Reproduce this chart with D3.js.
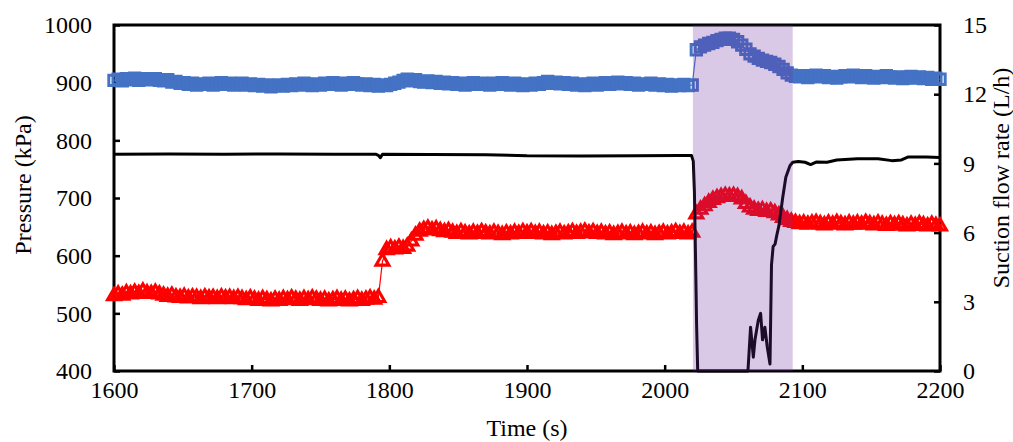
<!DOCTYPE html>
<html>
<head>
<meta charset="utf-8">
<script src="https://cdn.jsdelivr.net/npm/d3@7"></script>
<style>
  html, body { margin: 0; padding: 0; background: #fff; }
  svg text { font-family: "Liberation Serif", "Times New Roman", serif; fill: #000; }
</style>
</head>
<body>
<svg id="chart" width="1013" height="442"></svg>
<script>
// Pressure samples, one every 3 s from 1600 s to 2200 s (kPa)
const sampleStart = 1600;
const sampleStep = 3;

const pressureSeriesA = [
  904, 906, 903, 907, 905, 908, 904, 907, 906, 905,
  907, 904, 903, 905, 901, 902, 899, 900, 897, 899,
  896, 898, 897, 899, 896, 898, 900, 897, 899, 896,
  898, 899, 896, 898, 895, 897, 894, 896, 893, 895,
  896, 894, 897, 895, 898, 896, 899, 897, 895, 898,
  896, 899, 897, 900, 898, 896, 899, 897, 900, 898,
  896, 898, 895, 897, 894, 896, 895, 897, 899, 901,
  904, 906, 903, 905, 902, 901, 903, 900, 902, 899,
  901, 898, 900, 897, 899, 896, 898, 900, 897, 899,
  898, 896, 899, 897, 900, 898, 896, 899, 897, 895,
  898, 896, 899, 897, 900, 902, 899, 901, 898, 900,
  897, 899, 896, 898, 895, 897, 899, 896, 898, 900,
  897, 899, 901, 898, 900, 897, 899, 896, 898, 897,
  899, 896, 898, 895, 897, 894, 896, 895, 897, 895,
  896, 957, 962, 965, 968, 970, 973, 975, 977, 977,
  975, 971, 965, 958, 950, 946, 942, 939, 937, 935,
  932, 928, 923, 917, 913, 911, 910, 912, 909, 911,
  913, 910, 912, 909, 911, 908, 910, 912, 910, 913,
  911, 909, 912, 910, 908, 911, 909, 912, 910, 908,
  910, 907, 909, 911, 908, 910, 907, 909, 906, 908,
  906
];

const pressureSeriesB = [
  530, 533, 531, 535, 533, 536, 534, 538, 535, 534,
  536, 533, 531, 529, 531, 528, 527, 529, 526, 528,
  527, 525, 528, 526, 527, 525, 528, 526, 527, 525,
  527, 525, 523, 526, 524, 522, 525, 523, 521, 524,
  522, 525, 523, 526, 524, 522, 525, 523, 526, 524,
  522, 524, 521, 523, 525, 522, 524, 521, 523, 525,
  522, 524, 526, 524, 527, 590, 610, 613, 611, 614,
  612, 616, 625, 635, 642, 645, 647, 644, 646, 643,
  641, 643, 640, 638, 641, 639, 637, 640, 638, 641,
  639, 637, 640, 638, 636, 639, 637, 640, 638, 641,
  639, 641, 638, 640, 637, 639, 636, 638, 640, 637,
  639, 641, 638, 640, 642, 639, 641, 638, 640, 637,
  639, 636, 638, 640, 637, 639, 636, 638, 640, 637,
  639, 636, 638, 640, 637, 639, 641, 638, 640, 637,
  640, 672, 680, 686, 692, 697, 700, 702, 704, 703,
  704, 702, 698, 690, 684, 680, 678, 679, 676, 677,
  674, 670, 666, 662, 659, 657, 655, 656, 654, 656,
  657, 655, 653, 656, 654, 657, 655, 653, 656, 654,
  656, 654, 657, 655, 653, 656, 654, 652, 655, 653,
  655, 653, 651, 654, 652, 655, 653, 651, 654, 652,
  651
];

// Suction flow rate (L/h) at irregular times (s)
const flowTime = [
  1600, 1640, 1680, 1720, 1760, 1790, 1792, 1793.5, 1795, 1830,
  1870, 1900, 1940, 1980, 2010, 2019.5, 2020.8, 2021.6, 2022.4, 2023.2,
  2024, 2040, 2060.5, 2062.4, 2064.4, 2065.6, 2068, 2069.7, 2071.1, 2072.8,
  2074.5, 2076.5, 2077.6, 2078.8, 2080.2, 2081.5, 2083, 2085.7, 2088, 2091,
  2093, 2097, 2102, 2106, 2110, 2118, 2125, 2140, 2155, 2165,
  2172, 2177, 2190, 2200
];
const flowRate = [
  9.4, 9.41, 9.4, 9.41, 9.4, 9.4, 9.35, 9.25, 9.4, 9.39,
  9.38, 9.33, 9.32, 9.33, 9.34, 9.34, 9.1, 7.8, 5.0, 2.0,
  0, 0, 0, 1.9, 0.6, 1.35, 2.2, 2.5, 1.35, 1.9,
  1.05, 0.3, 4.6, 5.4, 5.5, 5.9, 6.3, 7.5, 8.4, 8.9,
  9.05, 9.08, 9.05, 8.95, 9.06, 9.05, 9.15, 9.2, 9.2, 9.12,
  9.15, 9.28, 9.28, 9.26
];

// Highlighted interval (s)
const eventWindow = [2020.5, 2093];

const timeTicks = [1600, 1700, 1800, 1900, 2000, 2100, 2200];
const pressureTicks = [400, 500, 600, 700, 800, 900, 1000];
const flowTicks = [0, 3, 6, 9, 12, 15];

const colorA = "#4472C4";
const colorB = "#FF0000";
const fontFamily = '"Liberation Serif", "Times New Roman", serif';

const svg = d3.select("#chart");
const plot = { left: 114, right: 940, top: 25, bottom: 371 };

const x = d3.scaleLinear().domain([1600, 2200]).range([plot.left, plot.right]);
const yP = d3.scaleLinear().domain([400, 1000]).range([plot.bottom, plot.top]);
const yF = d3.scaleLinear().domain([0, 15]).range([plot.bottom, plot.top]);

const sampleTimes = pressureSeriesA.map((_, i) => sampleStart + i * sampleStep);
const dataA = sampleTimes.map((t, i) => [t, pressureSeriesA[i]]);
const dataB = sampleTimes.map((t, i) => [t, pressureSeriesB[i]]);
const dataF = flowTime.map((t, i) => [t, flowRate[i]]);

// Axes with inward ticks
function styleAxis(g) {
  g.attr("font-family", fontFamily);
  g.select(".domain").remove();
  g.selectAll(".tick line").attr("stroke", "#000").attr("stroke-width", 2.5);
  g.selectAll(".tick text").attr("font-size", 24).attr("fill", "#000");
}

svg.append("g")
  .attr("transform", `translate(0,${plot.bottom})`)
  .call(d3.axisBottom(x).tickValues(timeTicks).tickFormat(d3.format("d")).tickSize(-6).tickPadding(10))
  .call(styleAxis);

svg.append("g")
  .attr("transform", `translate(${plot.left},0)`)
  .call(d3.axisLeft(yP).tickValues(pressureTicks).tickFormat(d3.format("d")).tickSize(-6).tickPadding(22))
  .call(styleAxis);

svg.append("g")
  .attr("transform", `translate(${plot.right},0)`)
  .call(d3.axisRight(yF).tickValues(flowTicks).tickFormat(d3.format("d")).tickSize(-6).tickPadding(23))
  .call(styleAxis);

// Frame
svg.append("rect")
  .attr("x", plot.left).attr("y", plot.top)
  .attr("width", plot.right - plot.left).attr("height", plot.bottom - plot.top)
  .attr("fill", "none").attr("stroke", "#000").attr("stroke-width", 3);

// Pressure series A: line with hollow square markers
svg.append("path")
  .datum(dataA)
  .attr("fill", "none").attr("stroke", colorA).attr("stroke-width", 1.2)
  .attr("d", d3.line().x(d => x(d[0])).y(d => yP(d[1])));
svg.append("g").selectAll("path")
  .data(dataA).join("path")
  .attr("transform", d => `translate(${x(d[0])},${yP(d[1])})`)
  .attr("d", d3.symbol(d3.symbolSquare, 107))
  .attr("fill", "none").attr("stroke", colorA).attr("stroke-width", 3);

// Pressure series B: line with hollow triangle markers
svg.append("path")
  .datum(dataB)
  .attr("fill", "none").attr("stroke", colorB).attr("stroke-width", 1.2)
  .attr("d", d3.line().x(d => x(d[0])).y(d => yP(d[1])));
svg.append("g").selectAll("path")
  .data(dataB).join("path")
  .attr("transform", d => `translate(${x(d[0])},${yP(d[1])})`)
  .attr("d", d3.symbol(d3.symbolTriangle, 72))
  .attr("fill", "none").attr("stroke", colorB).attr("stroke-width", 3.1);

// Suction flow rate
svg.append("path")
  .datum(dataF)
  .attr("fill", "none").attr("stroke", "#000").attr("stroke-width", 3)
  .attr("stroke-linejoin", "round")
  .attr("d", d3.line().x(d => x(d[0])).y(d => yF(d[1])));

// Highlighted interval
svg.append("rect")
  .attr("x", x(eventWindow[0])).attr("y", plot.top)
  .attr("width", x(eventWindow[1]) - x(eventWindow[0]))
  .attr("height", plot.bottom - plot.top)
  .attr("fill", "rgb(112,48,160)").attr("fill-opacity", 0.26);

// Axis titles
svg.append("text")
  .attr("transform", `translate(23,${(plot.top + plot.bottom) / 2 - 13}) rotate(-90)`)
  .attr("text-anchor", "middle").attr("dominant-baseline", "central")
  .attr("font-family", fontFamily).attr("font-size", 24)
  .text("Pressure (kPa)");

svg.append("text")
  .attr("transform", `translate(1001,${(plot.top + plot.bottom) / 2 - 20}) rotate(-90)`)
  .attr("text-anchor", "middle").attr("dominant-baseline", "central")
  .attr("font-family", fontFamily).attr("font-size", 24)
  .text("Suction flow rate (L/h)");

svg.append("text")
  .attr("x", (plot.left + plot.right) / 2).attr("y", 436)
  .attr("text-anchor", "middle")
  .attr("font-family", fontFamily).attr("font-size", 24)
  .text("Time (s)");
</script>
</body>
</html>
